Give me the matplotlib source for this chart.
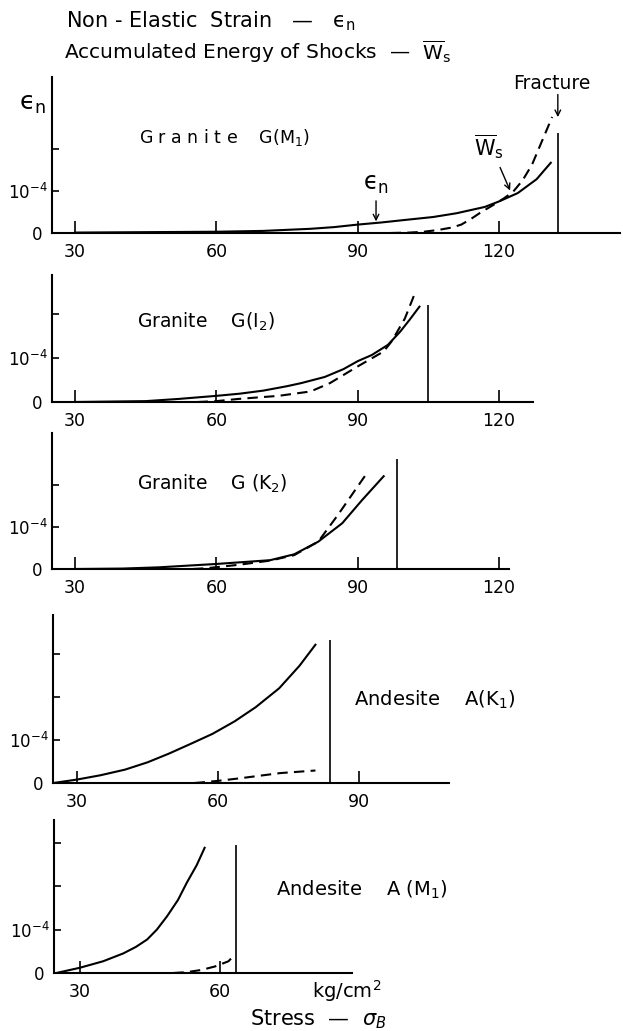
import numpy as np
import matplotlib
matplotlib.use("Agg")
import matplotlib.pyplot as plt

plt.rcParams['font.family'] = ['DejaVu Sans']
plt.rcParams['mathtext.fontset'] = 'dejavusans'

# strain / energy in units of 1e-4, stress in kg/cm2
# Granite G(M1)
g1_eps_x = [30, 45, 60, 70, 80, 85, 90, 95, 100, 106, 111, 117, 120, 124, 128, 131]
g1_eps_y = [0.01, 0.02, 0.03, 0.05, 0.10, 0.14, 0.20, 0.25, 0.31, 0.38, 0.47, 0.62, 0.75, 0.95, 1.28, 1.67]
g1_ws_x = [97, 101, 104, 107, 110, 112, 114, 116, 119, 121, 123, 125, 127, 129, 131.3]
g1_ws_y = [0.0, 0.01, 0.03, 0.07, 0.13, 0.20, 0.33, 0.48, 0.68, 0.82, 0.98, 1.25, 1.62, 2.15, 2.76]

# Granite G(I2)
g2_eps_x = [30, 45, 52, 60, 65, 70, 75, 78, 83, 87, 90, 93, 96.4, 99, 101, 103.1]
g2_eps_y = [0.0, 0.02, 0.07, 0.14, 0.19, 0.26, 0.36, 0.43, 0.57, 0.75, 0.93, 1.07, 1.30, 1.60, 1.87, 2.17]
g2_ws_x = [56, 60, 64.7, 73.2, 80, 84.1, 90, 95.5, 97.2, 100, 102.3]
g2_ws_y = [0.0, 0.02, 0.07, 0.14, 0.24, 0.43, 0.81, 1.15, 1.38, 1.90, 2.52]

# Granite G(K2)
g3_eps_x = [30, 40, 47.8, 60, 71.4, 76.5, 81.6, 86.7, 90.9, 95.5]
g3_eps_y = [0.0, 0.01, 0.04, 0.12, 0.21, 0.35, 0.65, 1.09, 1.64, 2.21]
g3_ws_x = [55, 58, 64.7, 71.4, 76.5, 81.6, 85.8, 92.1]
g3_ws_y = [0.0, 0.02, 0.10, 0.20, 0.33, 0.65, 1.29, 2.31]

# Andesite A(K1)
a1_eps_x = [25, 30, 35, 40.2, 45, 49.5, 54, 58.8, 63.5, 68, 73, 77.3, 80.7]
a1_eps_y = [0.0, 0.08, 0.18, 0.31, 0.48, 0.68, 0.90, 1.14, 1.43, 1.76, 2.20, 2.72, 3.21]
a1_ws_x = [55, 57.1, 60, 64.7, 73.2, 80.7]
a1_ws_y = [0.0, 0.02, 0.05, 0.11, 0.23, 0.29]

# Andesite A(M1)
a2_eps_x = [25, 30, 35, 39.3, 42, 44.4, 46.5, 48.7, 51, 52.9, 55, 56.7]
a2_eps_y = [0.0, 0.12, 0.27, 0.45, 0.60, 0.77, 1.0, 1.31, 1.68, 2.08, 2.48, 2.88]
a2_ws_x = [50, 52.9, 56, 58.9, 61.8, 63.1]
a2_ws_y = [0.0, 0.02, 0.07, 0.15, 0.27, 0.42]

fracture_x = [132.5, 105, 98.4, 83.7, 63.5]
fracture_top = [2.38, 2.2, 2.62, 3.33, 2.94]

panel_names = ["G r a n i t e    G(M$_1$)", "Granite    G(I$_2$)", "Granite    G (K$_2$)",
               "Andesite    A(K$_1$)", "Andesite    A (M$_1$)"]
xticks = [[30, 60, 90, 120], [30, 60, 90, 120], [30, 60, 90, 120], [30, 60, 90], [30, 60]]
yticks = [[0, 1, 2], [0, 1, 2], [0, 1, 2], [0, 1, 2, 3], [0, 1, 2, 3]]

eps_x = [g1_eps_x, g2_eps_x, g3_eps_x, a1_eps_x, a2_eps_x]
eps_y = [g1_eps_y, g2_eps_y, g3_eps_y, a1_eps_y, a2_eps_y]
ws_x = [g1_ws_x, g2_ws_x, g3_ws_x, a1_ws_x, a2_ws_x]
ws_y = [g1_ws_y, g2_ws_y, g3_ws_y, a1_ws_y, a2_ws_y]

EPS = r"ϵ$_{\rm n}$"
WS = r"$\overline{\rm W}_{\rm s}$"

W, H = 623, 1031
fig = plt.figure(figsize=(W / 100, H / 100), dpi=100)

# pixel boxes: left, right, baseline, top
boxes = [(52, 620, 233, 77), (52, 533, 402, 275), (52, 509, 569, 433),
         (53, 449, 783, 615), (54, 352, 973, 820)]
xlims = [(25.1, 145.7), (25.1, 127.2), (25.1, 122.1), (24.9, 109.1), (24.5, 88.2)]
ylims = [3.71, 2.89, 3.24, 3.9, 3.52]
label_pos = [(139, 138), (137, 322), (137, 484), (354, 700), (276, 890)]
label_size = [12.5, 13.5, 13.5, 14, 14]

axes = []
for i in range(5):
    l, r, b, t = boxes[i]
    ax = fig.add_axes([l / W, 1 - b / H, (r - l) / W, (b - t) / H])
    ax.set_xlim(*xlims[i])
    ax.set_ylim(0, ylims[i])
    for s in ['top', 'right']:
        ax.spines[s].set_visible(False)
    for s in ['left', 'bottom']:
        ax.spines[s].set_linewidth(1.5)
    ax.plot(eps_x[i], eps_y[i], color='black', lw=1.5)
    ax.plot(ws_x[i], ws_y[i], color='black', lw=1.5, linestyle=(0, (5, 3)))
    ax.vlines(fracture_x[i], 0, fracture_top[i], color='black', lw=1.2)
    ax.set_xticks(xticks[i])
    ax.set_xticklabels([str(v) for v in xticks[i]])
    ax.set_yticks(yticks[i])
    ax.set_yticklabels(["0 "] + [r"$10^{-4}$"] + [""] * (len(yticks[i]) - 2))
    ax.tick_params(axis='x', direction='in', length=9, width=1.2, pad=7, labelsize=12.5)
    ax.tick_params(axis='y', direction='in', length=5, width=1.2, pad=3, labelsize=12)
    fig.text(label_pos[i][0] / W, 1 - label_pos[i][1] / H, panel_names[i],
             fontsize=label_size[i], va='center', ha='left')
    axes.append(ax)

ax1 = axes[0]
# annotations in the first panel
ax1.annotate("", xy=(132.5, 2.69), xytext=(132.5, 3.36),
             arrowprops=dict(arrowstyle='->', lw=1, color='black'), annotation_clip=False)
ax1.text(131.3, 3.55, "Fracture", fontsize=13.5, ha='center', va='center', clip_on=False)
ax1.annotate("", xy=(93.9, 0.21), xytext=(93.9, 0.83),
             arrowprops=dict(arrowstyle='->', lw=1, color='black'))
ax1.text(93.9, 1.17, EPS, fontsize=17, ha='center', va='center')
ax1.annotate("", xy=(122.6, 0.95), xytext=(120.0, 1.62),
             arrowprops=dict(arrowstyle='->', lw=1, color='black'))
ax1.text(117.9, 2.05, WS, fontsize=15, ha='center', va='center')

fig.text(33 / W, 1 - 104 / H, EPS, fontsize=18, ha='center', va='center')
fig.text(66 / W, 1 - 21 / H, "Non - Elastic  Strain   —   " + EPS, fontsize=15,
         ha='left', va='center')
fig.text(64 / W, 1 - 52 / H, "Accumulated Energy of Shocks  —  " + WS,
         fontsize=14.5, ha='left', va='center')
fig.text(312 / W, 1 - 991 / H, r"kg/cm$^2$", fontsize=14, ha='left', va='center')
fig.text(250 / W, 1 - 1019 / H, r"Stress  —  $\sigma_B$", fontsize=15, ha='left', va='center')

fig.savefig("out.png", dpi=100)
